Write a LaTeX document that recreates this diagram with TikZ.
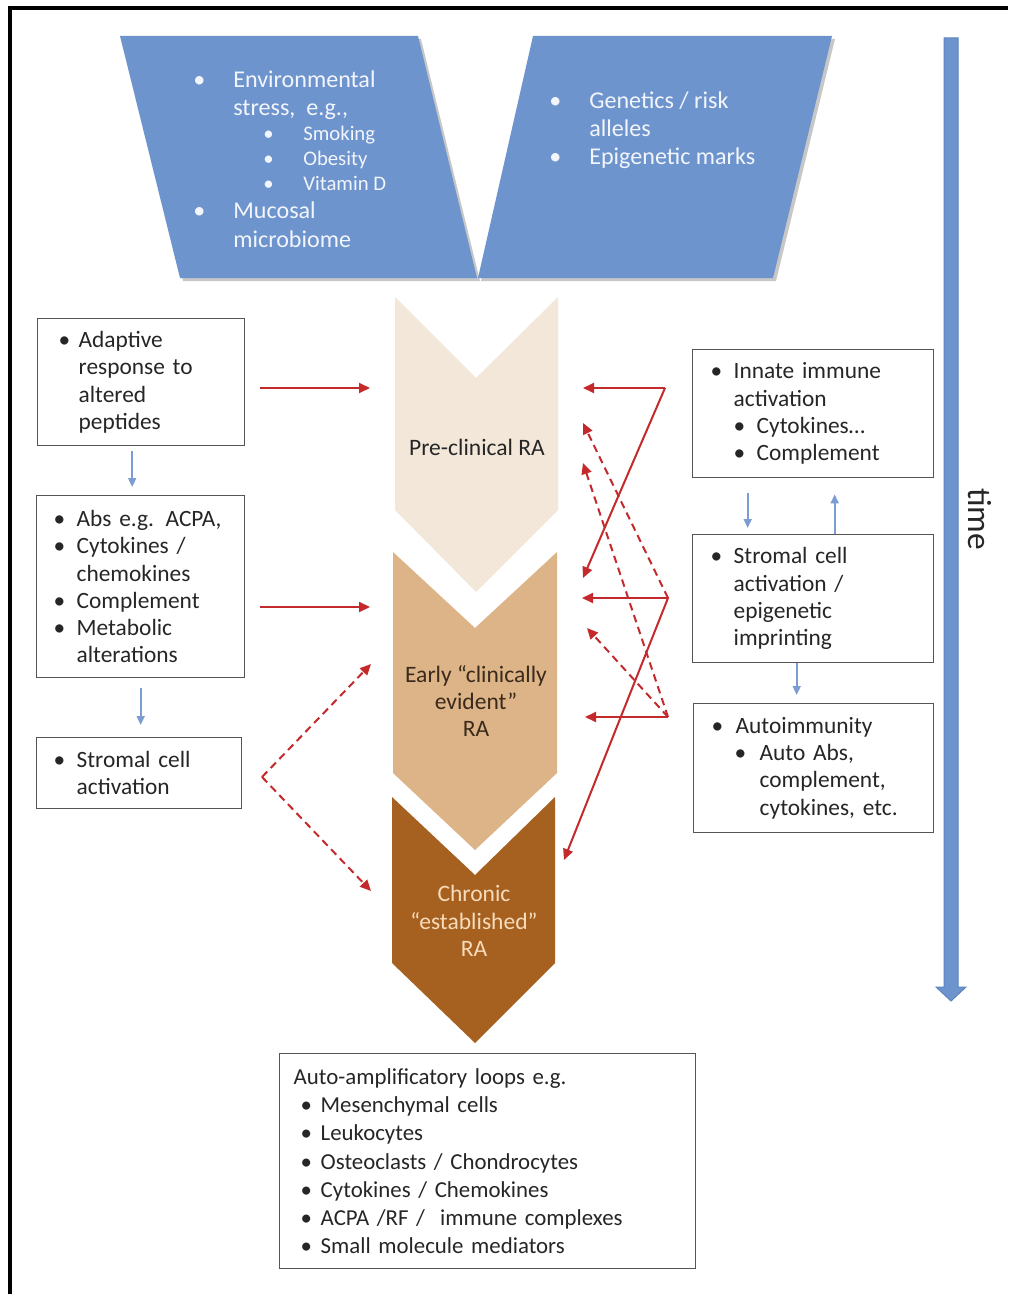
\documentclass[tikz,border=0pt]{standalone}
\usepackage{fontspec}
\setmainfont{Carlito}
\usetikzlibrary{arrows.meta,positioning,calc}
\definecolor{paraBlue}{HTML}{6E94CE}
\definecolor{paraEdge}{HTML}{5F84BE}
\definecolor{paraText}{HTML}{F2F5FB}
\definecolor{linkRed}{HTML}{C42A2C}
\definecolor{linkBlue}{HTML}{7C9DD4}
\definecolor{stagePre}{HTML}{F3E7DA}
\definecolor{stageEarly}{HTML}{DDB487}
\definecolor{stageChron}{HTML}{A6601F}
\definecolor{chronText}{HTML}{F7DCBC}
\definecolor{earlyText}{HTML}{3A2A1C}
\definecolor{boxEdge}{HTML}{555555}
\definecolor{inkDark}{HTML}{262626}

\newcommand{\bul}[1]{\makebox[#1][l]{\textbullet}}

\tikzset{
  infobox/.style={draw=boxEdge, line width=0.028cm, anchor=north west, align=left,
    inner ysep=0pt, text=inkDark, font=\fontsize{13.3}{15.5}\selectfont},
  redarr/.style={linkRed, line width=0.04cm, -{Triangle[length=0.22cm,width=0.2cm]}},
  reddash/.style={redarr, dash pattern=on 0.15cm off 0.1cm},
  bluearr/.style={linkBlue, line width=0.034cm, -{Triangle[length=0.18cm,width=0.16cm]}},
  paratext/.style={anchor=west, align=left, inner sep=0pt, text=paraText,
    font=\fontsize{13.7}{16}\selectfont},
  stagetext/.style={align=center, inner sep=0pt, font=\fontsize{13.4}{15.5}\selectfont},
}

\begin{document}
\begin{tikzpicture}[x=0.02cm,y=-0.02cm]
  \useasboundingbox (0,0) rectangle (1008,1294);
  \fill[white] (0,0) rectangle (1008,1294);
  \draw[line width=0.065cm] (10,1294) -- (10,8) -- (1008,8);

  % risk factors
  \fill[black!22] (123,39) -- (421,39) -- (480,281) -- (183,281) -- cycle;
  \fill[black!22] (536,39) -- (835,39) -- (776,281) -- (481,281) -- cycle;
  \fill[paraBlue] (120,36) -- (418,36) -- (477,278) -- (180,278) -- cycle;
  \fill[paraBlue] (533,36) -- (832,36) -- (773,278) -- (478,278) -- cycle;
  \node[paratext] (envir) at (193,159) {\bul{0.8cm}Environmental\\
    \hspace*{0.8cm}stress,\ \ e.g.,\\[-0.06cm]
    {\fontsize{11.8}{14}\selectfont\hspace*{1.4cm}\bul{0.8cm}Smoking}\\[-0.06cm]
    {\fontsize{11.8}{14}\selectfont\hspace*{1.4cm}\bul{0.8cm}Obesity}\\[-0.06cm]
    {\fontsize{11.8}{14}\selectfont\hspace*{1.4cm}\bul{0.8cm}Vitamin D}\\
    \bul{0.8cm}Mucosal\\
    \hspace*{0.8cm}microbiome};
  \node[paratext] (genet) at (549,130) {\bul{0.8cm}Genetics / risk\\
    \hspace*{0.8cm}alleles\\
    \bul{0.8cm}Epigenetic marks};

  % disease stages
  \fill[stagePre] (395,297) -- (476,378) -- (558,297) -- (558,510) -- (476,592) -- (395,510) -- cycle;
  \fill[stageEarly] (393,552) -- (475,628) -- (557,552) -- (557,773) -- (475,850) -- (393,773) -- cycle;
  \fill[stageChron] (392,797) -- (475,875) -- (555,797) -- (555,963) -- (475,1043) -- (392,963) -- cycle;
  \node[stagetext, text=inkDark] (pre) at (477,447) {Pre-clinical RA};
  \node[stagetext, text=earlyText] (early) at (476,701) {Early “clinically\\evident”\\RA};
  \node[stagetext, text=chronText] (chronic) at (474,921) {Chronic\\“established”\\RA};

  % left column
  \node[infobox, minimum width=4.14cm, minimum height=2.54cm, text width=3.3cm, inner xsep=0.42cm]
    (adapt) at (37,318) {\bul{0.4cm}Adaptive\\ \hspace*{0.4cm}response to\\
    \hspace*{0.4cm}altered\\ \hspace*{0.4cm}peptides};
  \node[infobox, minimum width=4.16cm, minimum height=3.64cm, text width=3.48cm, inner xsep=0.34cm]
    (abs) at (36,495) {\bul{0.46cm}Abs e.g. ACPA,\\ \bul{0.46cm}Cytokines /\\
    \hspace*{0.46cm}chemokines\\ \bul{0.46cm}Complement\\ \bul{0.46cm}Metabolic\\
    \hspace*{0.46cm}alterations};
  \node[infobox, minimum width=4.1cm, minimum height=1.42cm, text width=3.42cm, inner xsep=0.34cm]
    (stromL) at (36,737) {\bul{0.46cm}Stromal cell\\ \hspace*{0.46cm}activation};

  % right column
  \node[infobox, minimum width=4.82cm, minimum height=2.56cm, text width=4.1cm, inner xsep=0.36cm]
    (innate) at (692,349) {\bul{0.46cm}Innate immune\\ \hspace*{0.46cm}activation\\
    \hspace*{0.46cm}\bul{0.46cm}Cytokines…\\ \hspace*{0.46cm}\bul{0.46cm}Complement};
  \node[infobox, minimum width=4.82cm, minimum height=2.56cm, text width=4.1cm, inner xsep=0.36cm]
    (stromR) at (692,534) {\bul{0.46cm}Stromal cell\\ \hspace*{0.46cm}activation /\\
    \hspace*{0.46cm}epigenetic\\ \hspace*{0.46cm}imprinting};
  \node[infobox, minimum width=4.8cm, minimum height=2.58cm, text width=4.08cm, inner xsep=0.36cm]
    (auto) at (693,703) {\bul{0.48cm}Autoimmunity\\ \hspace*{0.46cm}\bul{0.5cm}Auto Abs,\\
    \hspace*{0.96cm}complement,\\ \hspace*{0.96cm}cytokines, etc.};

  % bottom
  \node[infobox, minimum width=8.32cm, minimum height=4.3cm, text width=7.76cm, inner xsep=0.28cm,
    font=\fontsize{13}{16}\selectfont]
    (loops) at (279,1053) {Auto-amplificatory loops e.g.\\
    \hspace*{0.14cm}\bul{0.4cm}Mesenchymal cells\\
    \hspace*{0.14cm}\bul{0.4cm}Leukocytes\\
    \hspace*{0.14cm}\bul{0.4cm}Osteoclasts / Chondrocytes\\
    \hspace*{0.14cm}\bul{0.4cm}Cytokines / Chemokines\\
    \hspace*{0.14cm}\bul{0.4cm}ACPA /RF /\ \ immune complexes\\
    \hspace*{0.14cm}\bul{0.4cm}Small molecule mediators};

  % time
  \filldraw[fill=paraBlue, draw=paraEdge, line width=0.02cm] (944,38) -- (958,38) -- (958,987)
    -- (966,987) -- (951,1001) -- (936,987) -- (944,987) -- cycle;
  \node[rotate=-90, font=\fontsize{19}{22}\selectfont, text=inkDark, inner sep=0pt] (timelbl) at (980,519) {time};

  % blue links
  \draw[bluearr, shorten <=0.1cm, shorten >=0.16cm] ([xshift=-0.18cm]adapt.south) -- ([xshift=-0.18cm]adapt.south |- abs.north);
  \draw[bluearr, shorten <=0.2cm, shorten >=0.24cm] (abs.south) -- (abs.south |- stromL.north);
  \draw[bluearr, shorten <=0.3cm, shorten >=0.12cm] ([xshift=-1.31cm]innate.south) -- ([xshift=-1.31cm]innate.south |- stromR.north);
  \draw[bluearr, shorten >=0.32cm] ([xshift=0.43cm]stromR.north) -- ([xshift=0.43cm]stromR.north |- innate.south);
  \draw[bluearr, shorten >=0.16cm] ([xshift=-0.33cm]stromR.south) -- ([xshift=-0.33cm]stromR.south |- auto.north);

  % red links, left
  \coordinate (adaptOut) at (260,388);   \coordinate (preIn) at (370,388);
  \coordinate (absOut) at (260,607);     \coordinate (earlyIn) at (370,607);
  \coordinate (stromFork) at (262,777);
  \coordinate (earlyInL) at (371,664);   \coordinate (chronInL) at (371,891);
  \draw[redarr] (adaptOut) -- (preIn);
  \draw[redarr] (absOut) -- (earlyIn);
  \draw[reddash] (stromFork) -- (earlyInL);
  \draw[reddash] (stromFork) -- (chronInL);

  % red links, right
  \coordinate (innHub) at (665,388);
  \coordinate (stromHub) at (668,598);
  \coordinate (autoHub) at (668,717);
  \coordinate (preR1) at (583,388);  \coordinate (preR2) at (583,423);  \coordinate (preR3) at (583,463);
  \coordinate (earlyTop) at (583,578); \coordinate (earlyR1) at (582,598);
  \coordinate (earlyR2) at (587,628);  \coordinate (earlyR3) at (585,717);
  \coordinate (chronR) at (564,860);
  \draw[redarr] (innHub) -- (preR1);
  \draw[redarr] (innHub) -- (earlyTop);
  \draw[redarr] (stromHub) -- (earlyR1);
  \draw[redarr] (stromHub) -- (chronR);
  \draw[reddash] (stromHub) -- (preR2);
  \draw[reddash] (autoHub) -- (preR3);
  \draw[reddash] (autoHub) -- (earlyR2);
  \draw[redarr] (autoHub) -- (earlyR3);
\end{tikzpicture}
\end{document}
